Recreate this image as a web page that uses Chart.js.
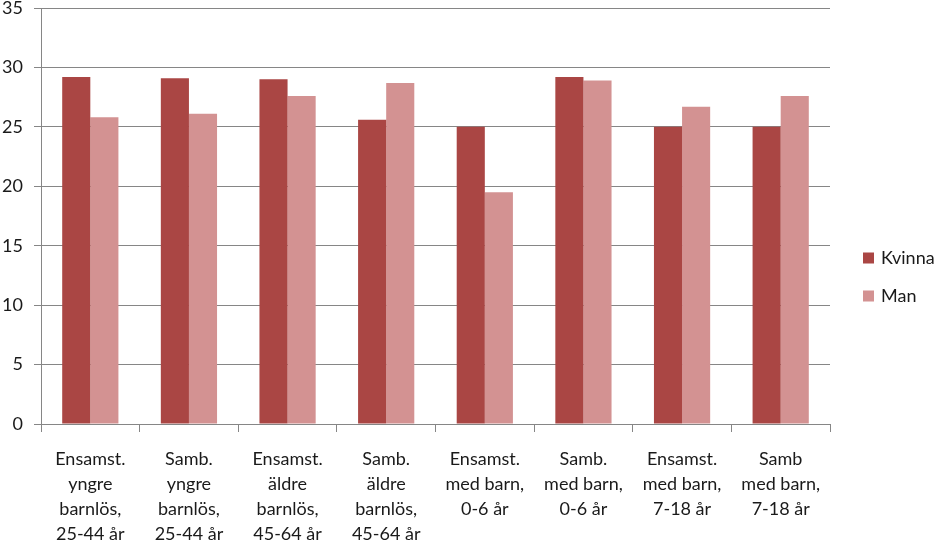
<!DOCTYPE html>
<html>
<head>
<meta charset="utf-8">
<script src="https://cdn.jsdelivr.net/npm/chart.js@4/dist/chart.umd.min.js"></script>
<style>
html,body{margin:0;padding:0;background:#fff;}
#wrap{width:940px;height:540px;position:relative;}
</style>
</head>
<body>
<div id="wrap"><canvas id="c" width="940" height="540"></canvas></div>
<script>
const categories = [
  ["Ensamst.", "yngre", "barnlös,", "25-44 år"],
  ["Samb.", "yngre", "barnlös,", "25-44 år"],
  ["Ensamst.", "äldre", "barnlös,", "45-64 år"],
  ["Samb.", "äldre", "barnlös,", "45-64 år"],
  ["Ensamst.", "med barn,", "0-6 år"],
  ["Samb.", "med barn,", "0-6 år"],
  ["Ensamst.", "med barn,", "7-18 år"],
  ["Samb", "med barn,", "7-18 år"]
];
const seriesNames = ["Kvinna", "Man"];
const kvinna = [29.2, 29.1, 29.0, 25.6, 25.0, 29.2, 25.0, 25.0];
const man = [25.8, 26.1, 27.6, 28.7, 19.5, 28.9, 26.7, 27.6];
const yTicks = [0, 5, 10, 15, 20, 25, 30, 35];

const FONT = "Lato, 'Open Sans', sans-serif";
const colors = ["#AA4644", "#D39292"];

const legendPlugin = {
  id: 'customLegend',
  afterDraw(chart) {
    const ctx = chart.ctx;
    ctx.save();
    ctx.font = "18px " + FONT;
    ctx.textBaseline = "middle";
    ctx.textAlign = "left";
    chart.data.datasets.forEach((ds, i) => {
      const y = 258 + i * 38;
      ctx.fillStyle = ds.backgroundColor;
      ctx.fillRect(863, y - 5.5, 11, 11);
      ctx.fillStyle = "#1a1a1a";
      ctx.fillText(ds.label, 881, y);
    });
    ctx.restore();
  }
};

new Chart(document.getElementById('c'), {
  type: 'bar',
  data: {
    labels: categories,
    datasets: [
      { label: seriesNames[0], data: kvinna, backgroundColor: colors[0], borderWidth: 0 },
      { label: seriesNames[1], data: man, backgroundColor: colors[1], borderWidth: 0 }
    ]
  },
  options: {
    responsive: false,
    animation: false,
    devicePixelRatio: 1,
    layout: { padding: { left: 0, right: 110, top: 8, bottom: 0 } },
    datasets: { bar: { categoryPercentage: 0.57, barPercentage: 1.0 } },
    plugins: { legend: { display: false }, tooltip: { enabled: false } },
    scales: {
      x: {
        grid: { display: true, drawOnChartArea: false, drawTicks: true, tickLength: 8, color: '#868686', offset: true },
        border: { display: true, color: '#868686', width: 1 },
        ticks: { color: '#1a1a1a', font: { family: FONT, size: 18, lineHeight: '25px' }, padding: 15, maxRotation: 0, autoSkip: false },
        afterFit(scale) { scale.height = 116; scale.paddingLeft = 0; scale.paddingRight = 0; }
      },
      y: {
        min: 0, max: 35,
        afterBuildTicks(scale) { scale.ticks = yTicks.map(v => ({ value: v })); },
        grid: { color: '#868686', tickLength: 7, drawTicks: true },
        border: { display: true, color: '#868686', width: 1 },
        ticks: { color: '#1a1a1a', font: { family: FONT, size: 18 }, padding: 11 },
        afterFit(scale) { scale.width = 41; scale.paddingTop = 0; scale.paddingBottom = 0; }
      }
    }
  },
  plugins: [legendPlugin]
});
</script>
</body>
</html>
